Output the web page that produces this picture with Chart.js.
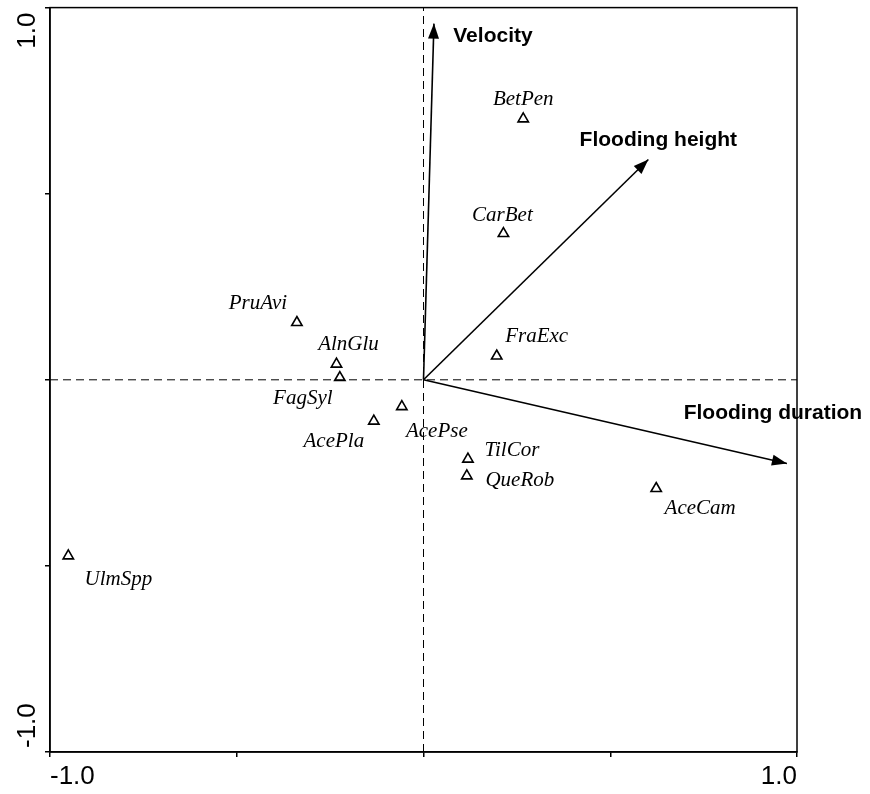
<!DOCTYPE html>
<html><head><meta charset="utf-8">
<script src="https://cdn.jsdelivr.net/npm/chart.js@4.4.1/dist/chart.umd.min.js"></script>
<style>html,body{margin:0;padding:0;background:#fff}canvas{display:block}</style>
</head><body>
<canvas id="c" width="870" height="794"></canvas>
<script>
// ---- data ----
const species  = ['BetPen','CarBet','PruAvi','AlnGlu','FagSyl','FraExc','AcePla','AcePse','TilCor','QueRob','AceCam','UlmSpp'];
const speciesX = [0.267, 0.214, -0.339, -0.233, -0.224, 0.196, -0.133, -0.058, 0.119, 0.116, 0.623, -0.951];
const speciesY = [0.701, 0.393, 0.154, 0.042, 0.006, 0.064, -0.111, -0.072, -0.213, -0.258, -0.292, -0.473];
const variables = ['Velocity','Flooding height','Flooding duration'];
const variableX = [0.028, 0.602, 0.973];
const variableY = [0.957, 0.592, -0.225];
const axisTicks = [-1, -0.5, 0, 0.5, 1];
const axisTickLabels = ['-1.0', '', '', '', '1.0'];

// ---- label placement (pixel offsets from marks) ----
const speciesLabelOffsets = [[0,-19],[-1,-18],[-39,-19],[12,-20],[-37,21],[40,-19],[-40,20],[35,25],[44,-9],[53,5],[44,20],[50,24]];
const variableLabelOffsets = [[59,13],[10,-19],[-14,-50]];

const SANS = "'Liberation Sans', Arial, sans-serif";
const SERIF = "'Liberation Serif', 'Times New Roman', serif";

const datasets = [
  { type:'line', data:[{x:0,y:-1},{x:0,y:1}], borderColor:'#000', borderWidth:1, borderDash:[8,5], pointRadius:0 },
  { type:'line', data:[{x:-1,y:0},{x:1,y:0}], borderColor:'#000', borderWidth:1, borderDash:[8,5], pointRadius:0 }
];
variables.forEach((v,i)=>{
  datasets.push({ type:'line', isArrow:true, arrowIndex:i, data:[{x:0,y:0},{x:variableX[i],y:variableY[i]}],
    borderColor:'#000', borderWidth:1.6, pointRadius:0 });
});
datasets.push({ type:'scatter', isSpecies:true, data: species.map((s,i)=>({x:speciesX[i], y:speciesY[i]})),
  pointStyle:'triangle', pointRadius:6, borderColor:'#000', borderWidth:1.6, backgroundColor:'rgba(0,0,0,0)' });

const decor = {
  id:'decor',
  afterDatasetsDraw(chart){
    const ctx = chart.ctx;
    ctx.save();
    chart.data.datasets.forEach((ds,di)=>{
      const meta = chart.getDatasetMeta(di);
      if (ds.isArrow){
        const p0 = meta.data[0], p1 = meta.data[1];
        const ang = Math.atan2(p1.y-p0.y, p1.x-p0.x);
        const L = 15, W = 5.5;
        ctx.fillStyle = '#000';
        ctx.beginPath();
        ctx.moveTo(p1.x, p1.y);
        ctx.lineTo(p1.x - L*Math.cos(ang) + W*Math.sin(ang), p1.y - L*Math.sin(ang) - W*Math.cos(ang));
        ctx.lineTo(p1.x - L*Math.cos(ang) - W*Math.sin(ang), p1.y - L*Math.sin(ang) + W*Math.cos(ang));
        ctx.closePath(); ctx.fill();
        const o = variableLabelOffsets[ds.arrowIndex];
        ctx.font = 'bold 21px ' + SANS;
        ctx.textAlign = 'center'; ctx.textBaseline = 'middle';
        ctx.fillText(variables[ds.arrowIndex], p1.x + o[0], p1.y + o[1]);
      }
      if (ds.isSpecies){
        ctx.font = 'italic 21px ' + SERIF;
        ctx.textAlign = 'center'; ctx.textBaseline = 'middle';
        ctx.fillStyle = '#000';
        meta.data.forEach((pt,i)=>{
          const o = speciesLabelOffsets[i];
          ctx.fillText(species[i], pt.x + o[0], pt.y + o[1]);
        });
      }
    });
    // frame
    const a = chart.chartArea;
    ctx.strokeStyle = '#000'; ctx.lineWidth = 1.5;
    ctx.strokeRect(a.left, a.top, a.right - a.left, a.bottom - a.top);
    // rotated y tick labels
    const ys = chart.scales.y;
    ctx.font = '26px ' + SANS;
    ctx.fillStyle = '#000';
    ctx.textBaseline = 'alphabetic';
    axisTicks.forEach((v,i)=>{
      const lab = axisTickLabels[i];
      if (!lab) return;
      const py = ys.getPixelForValue(v);
      ctx.save();
      ctx.translate(a.left - 15, v === ys.max ? py + 5 : (v === ys.min ? py - 4 : py));
      ctx.rotate(-Math.PI/2);
      ctx.textAlign = v === ys.max ? 'right' : (v === ys.min ? 'left' : 'center');
      ctx.fillText(lab, 0, 0);
      ctx.restore();
    });
    ctx.restore();
  }
};

new Chart(document.getElementById('c'), {
  type:'scatter',
  data:{ datasets },
  options:{
    responsive:false, animation:false, events:[],
    layout:{ padding:{ top:7, right:73, left:0, bottom:0 } },
    plugins:{ legend:{display:false}, tooltip:{enabled:false} },
    scales:{
      x:{ type:'linear', min:-1, max:1,
        afterBuildTicks: s => { s.ticks = axisTicks.map(v=>({value:v})); },
        afterFit: s => { s.height = 42; },
        grid:{ drawOnChartArea:false, drawTicks:true, tickLength:5, color:'#000', lineWidth:1.5 },
        border:{ display:true, color:'#000', width:1.5 },
        ticks:{ align:'inner', padding:4, color:'#000', font:{ family:SANS, size:26 }, maxRotation:0, minRotation:0,
          callback:(v,i)=>axisTickLabels[i] }
      },
      y:{ type:'linear', min:-1, max:1,
        afterBuildTicks: s => { s.ticks = axisTicks.map(v=>({value:v})); },
        afterFit: s => { s.width = 50; },
        grid:{ drawOnChartArea:false, drawTicks:true, tickLength:5, color:'#000', lineWidth:1.5 },
        border:{ display:true, color:'#000', width:1.5 },
        ticks:{ display:false }
      }
    }
  },
  plugins:[decor]
});
</script>
</body></html>
